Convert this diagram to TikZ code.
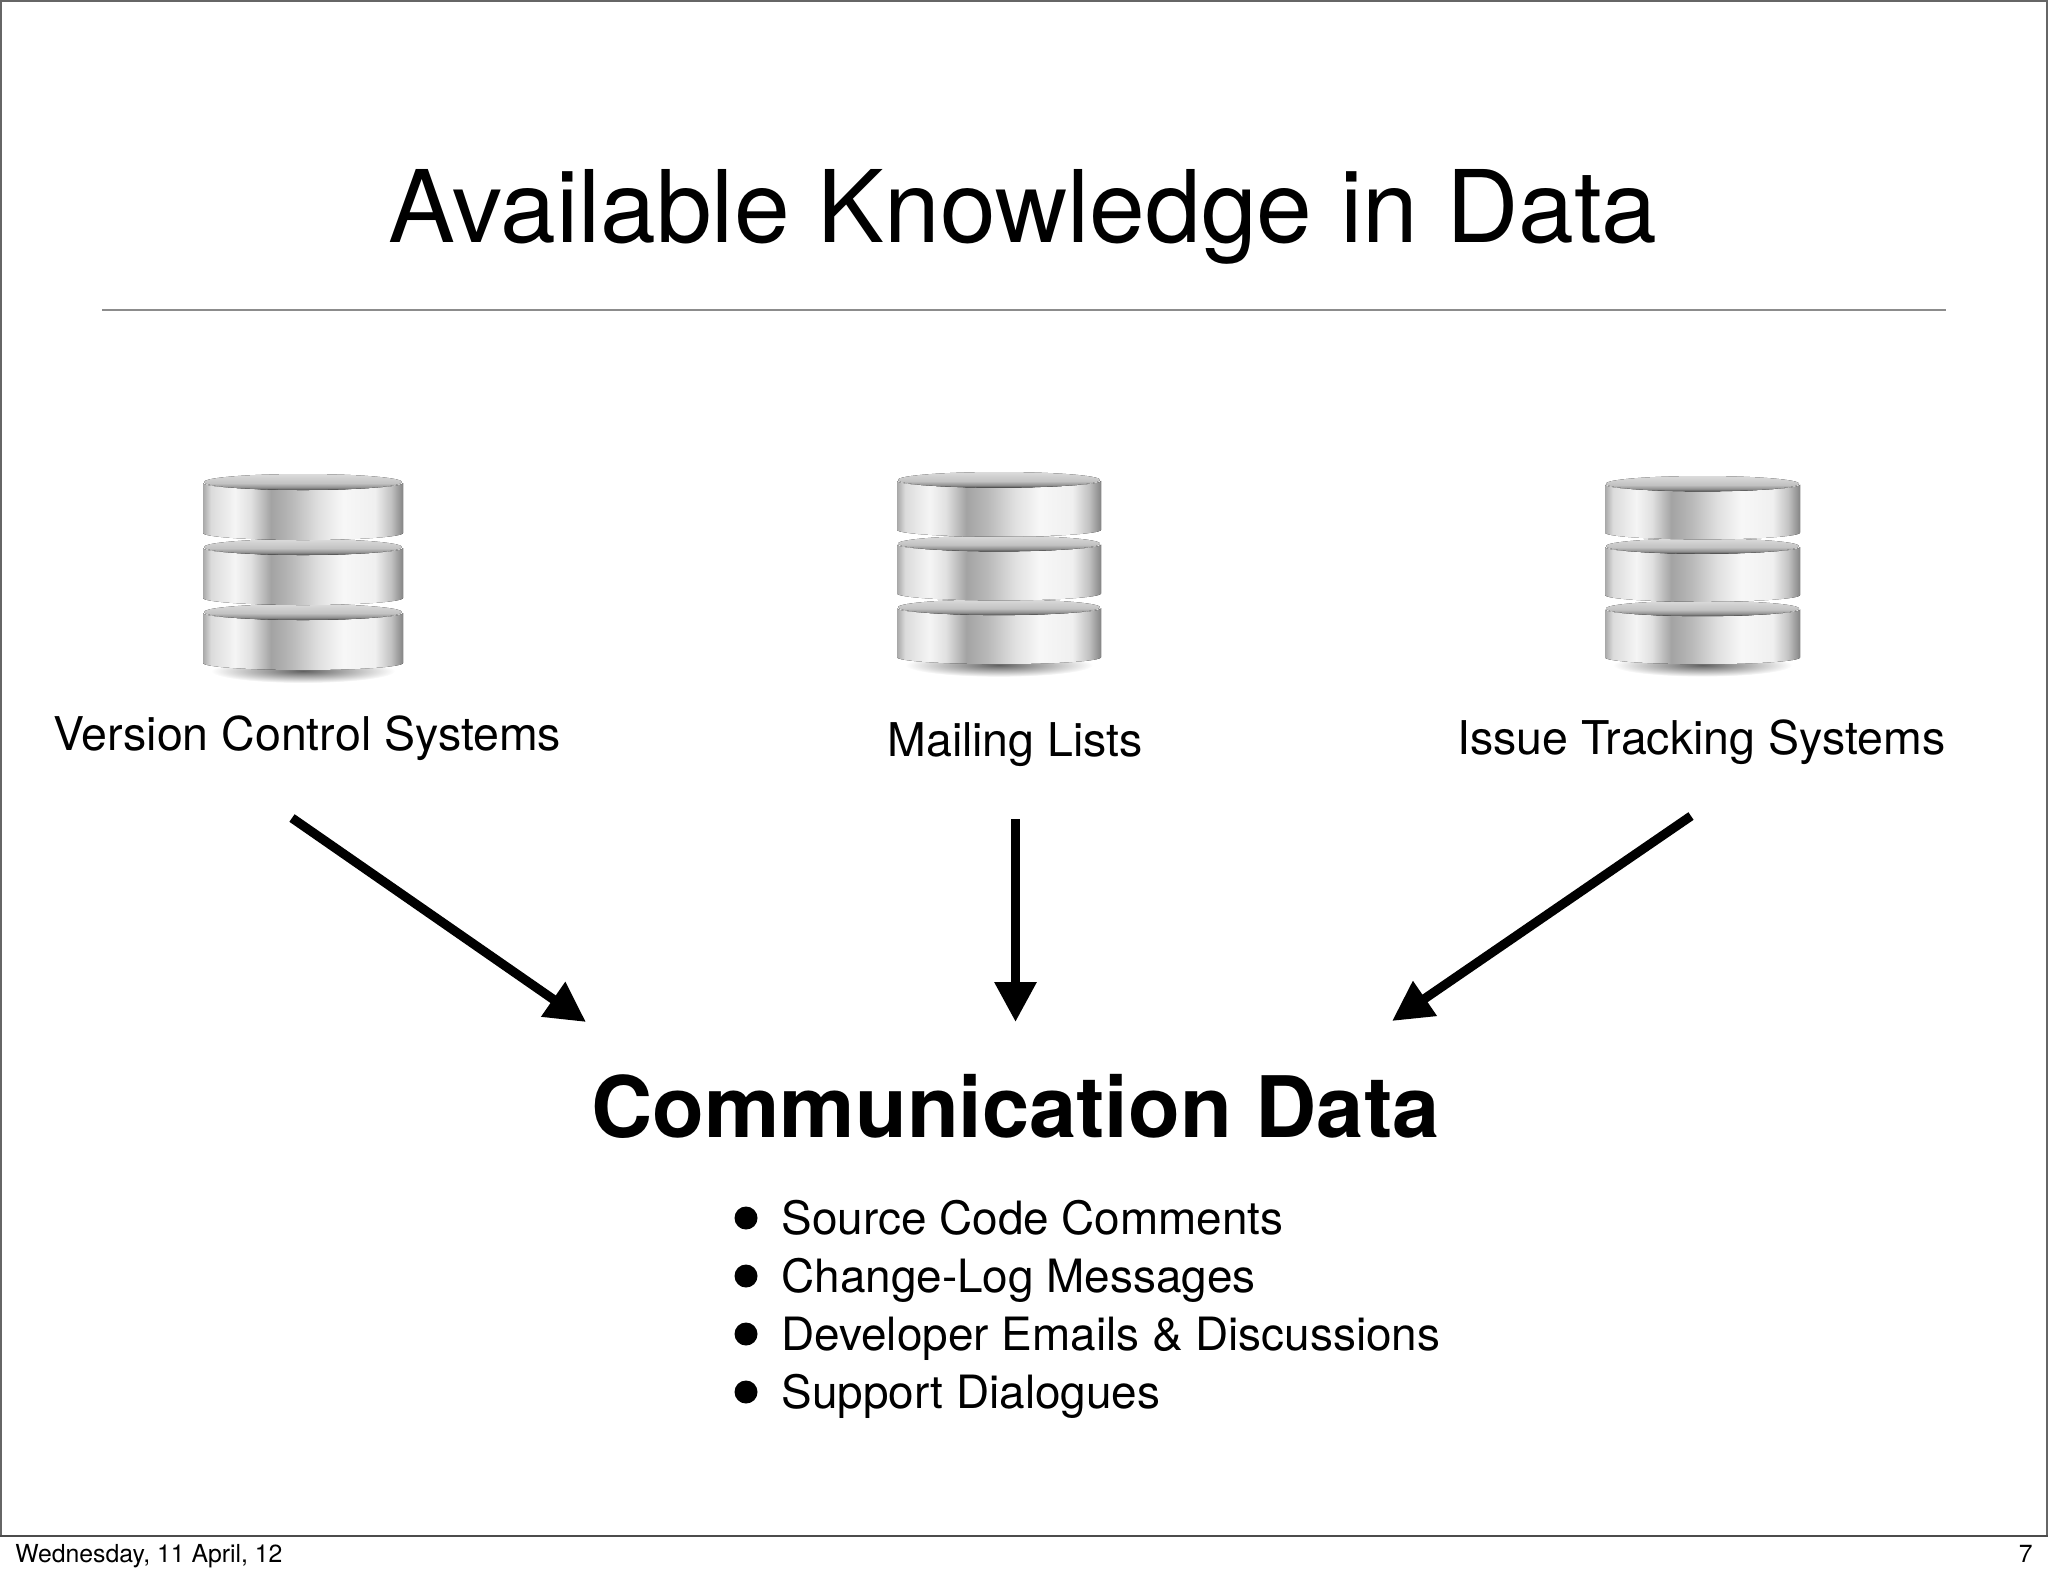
\documentclass[tikz,border=0pt]{standalone}
\usepackage{fontspec}
\setmainfont{TeX Gyre Heros}
\usetikzlibrary{arrows.meta}

\pgfdeclarehorizontalshading{diskmetal}{100bp}{
  color(0bp)=(black!16);
  color(25bp)=(black!34);
  color(27bp)=(black!14);
  color(33bp)=(black!4);
  color(37bp)=(black!12);
  color(42bp)=(black!36);
  color(47bp)=(black!28);
  color(54bp)=(black!12);
  color(60bp)=(black!3);
  color(68bp)=(black!6);
  color(72bp)=(black!24);
  color(75bp)=(black!48);
  color(100bp)=(black!48)}

\pgfdeclareverticalshading{disklight}{100bp}{
  color(0bp)=(black!70);
  color(25bp)=(black!70);
  color(33bp)=(black!44);
  color(46bp)=(black!24);
  color(75bp)=(black!14);
  color(100bp)=(black!14)}

\tikzset{
  disk body/.style={shading=diskmetal,draw=none},
  disk lid/.style={shading=disklight,draw=none},
  title text/.style={anchor=base,inner sep=0pt,font=\fontsize{50.1}{60}\selectfont},
  source text/.style={anchor=base west,inner sep=0pt,font=\fontsize{23.25}{28}\selectfont},
  item text/.style={anchor=base west,inner sep=0pt,font=\fontsize{22.95}{28}\selectfont},
  item dot/.style={circle,fill=black,inner sep=0pt,minimum size=11.5pt},
  foot text/.style={inner sep=0pt,font=\fontsize{12.4}{14}\selectfont},
  big arrow/.style={line width=4.6pt,-{Triangle[length=20pt,width=20pt]}}
}

% one database icon, drawn in a 200 x 206 box
\newcommand{\dbicon}[4]{
  \begin{scope}[shift={(#1,#2)},xscale=#3,yscale=#4]
    \shade [inner color=black!62,outer color=white] (100,197) ellipse [x radius=92,y radius=12];
    \foreach \top in {130,65,0} {
      \fill [disk body,shift={(0,\top)}] (0,9) -- (0,59) arc [start angle=180,end angle=0,x radius=100,y radius=7] -- (200,9) arc [start angle=0,end angle=180,x radius=100,y radius=7] -- cycle;
      \fill [disk lid,shift={(0,\top)}] (100,8) ellipse [x radius=99,y radius=8];
    }
  \end{scope}
}

\begin{document}
\begin{tikzpicture}[x=0.5pt,y=-0.5pt]

\useasboundingbox (0,0) rectangle (2048,1576);

\draw [black!60,line width=0.7pt] (1,1) -- (2047,1) -- (2047,1536) -- (1,1536) -- cycle;
\draw [black!70,line width=1pt] (0,1536) -- (2048,1536);
\draw [black!45,line width=0.7pt] (102,310) -- (1946,310);

\node [title text] (title) at (1023,242) {Available Knowledge in Data};

\dbicon{203}{474}{1}{1}
\dbicon{897}{472}{1.02}{0.98}
\dbicon{1605}{476}{0.975}{0.96}

\node [source text] (vcs) at (53,750) {Version Control Systems};
\node [source text] (lists) at (887,756) {Mailing Lists};
\node [source text] (issues) at (1457,754) {Issue Tracking Systems};

\coordinate (vcsout) at (292,818);
\coordinate (listsout) at (1015.5,819);
\coordinate (issuesout) at (1691,816);
\coordinate (vcsin) at (586,1022);
\coordinate (listsin) at (1015.5,1022);
\coordinate (issuesin) at (1392,1021);

\draw [big arrow] (vcsout) -- (vcsin);
\draw [big arrow] (listsout) -- (listsin);
\draw [big arrow] (issuesout) -- (issuesin);

\node [anchor=base west,inner sep=0pt,font=\fontsize{42.4}{48}\selectfont\bfseries] (comm) at (591,1137) {Communication Data};

\foreach \name/\ypos/\label in {one/1234/Source Code Comments,two/1292/Change-Log Messages,three/1350/Developer Emails \& Discussions,four/1408/Support Dialogues} {
  \node [item dot] (dot\name) at (746,\ypos-16) {};
  \node [item text] (item\name) at (781,\ypos) {\label};
}

\node [foot text,anchor=base west] (date) at (15,1562) {Wednesday, 11 April, 12};
\node [foot text,anchor=base east] (page) at (2033,1562) {7};

\end{tikzpicture}
\end{document}
